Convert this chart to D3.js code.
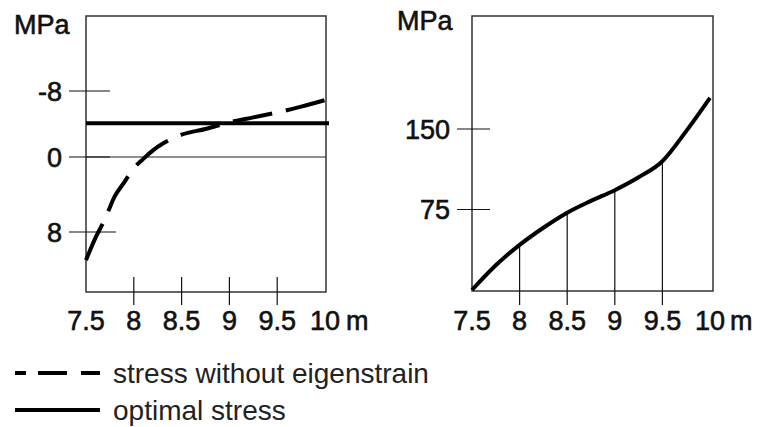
<!DOCTYPE html>
<html>
<head>
<meta charset="utf-8">
<script src="https://cdn.jsdelivr.net/npm/d3@7"></script>
<style>
  body { margin: 0; background: #fff; }
  svg { display: block; font-family: "Liberation Sans", Arial, sans-serif; }
  .lbl { fill: #111; stroke: #111; stroke-width: 0.6px; }
</style>
</head>
<body>
<svg id="chart" width="761" height="427"></svg>
<script>
// Positions along the beam (m)
const positions = [7.5, 8, 8.5, 9, 9.5, 10];
const innerTicks = [8, 8.5, 9, 9.5];

// Left panel: stress without eigenstrain (MPa, positive is downward)
const noEigenX = [7.5, 7.6, 7.7, 7.8, 7.9, 8.0, 8.1, 8.2, 8.3, 8.4, 8.5, 8.75, 9, 9.25, 9.5, 9.75, 10];
const noEigenY = [11.0, 8.6, 6.6, 4.2, 2.7, 1.2, 0.2, -0.8, -1.6, -2.2, -2.7, -3.4, -4.2, -4.8, -5.4, -6.1, -6.9];
const optimalStress = -4.1;
const leftTicks = [-8, 0, 8];

// Right panel: stress (MPa)
const rightX = [7.5, 7.75, 8, 8.25, 8.5, 8.75, 9, 9.25, 9.5, 9.75, 10];
const rightY = [0, 23, 42, 58, 72, 83, 93, 105, 120, 148, 179];
const rightTicks = [75, 150];

const svg = d3.select("#chart");
const font = 27;

// ---------- left panel ----------
const xL = d3.scaleLinear().domain([7.5, 10]).range([86, 325]);
const yL = d3.scaleLinear().domain([-8, 0, 8]).range([91, 157, 232]);
const left = svg.append("g");

left.append("rect")
  .attr("x", 86).attr("y", 16).attr("width", 240).attr("height", 276)
  .attr("fill", "none").attr("stroke", "#333").attr("stroke-width", 1.5);

// zero line
left.append("line")
  .attr("x1", xL(7.5)).attr("x2", 326)
  .attr("y1", yL(0)).attr("y2", yL(0))
  .attr("stroke", "#222").attr("stroke-width", 1.2);

// y ticks crossing the axis
leftTicks.forEach((t) => {
  const w = t > 0 ? 30 : 24;
  left.append("line")
    .attr("x1", 69).attr("x2", 86 + w)
    .attr("y1", yL(t)).attr("y2", yL(t))
    .attr("stroke", "#111").attr("stroke-width", 1.2);
  left.append("text").attr("class", "lbl")
    .attr("x", 62).attr("y", yL(t)).attr("dy", "0.36em")
    .attr("text-anchor", "end").attr("font-size", font)
    .text(t);
});

// x ticks
innerTicks.forEach((t) => {
  left.append("line")
    .attr("x1", xL(t)).attr("x2", xL(t))
    .attr("y1", 277).attr("y2", 305)
    .attr("stroke", "#111").attr("stroke-width", 1.2);
});
positions.forEach((t) => {
  left.append("text").attr("class", "lbl")
    .attr("x", xL(t)).attr("y", 330)
    .attr("text-anchor", "middle").attr("font-size", font)
    .text(t);
});
left.append("text").attr("class", "lbl").attr("x", xL(10) + 21).attr("y", 330)
  .attr("font-size", font).text("m");
left.append("text").attr("class", "lbl").attr("x", 14).attr("y", 34)
  .attr("font-size", font).text("MPa");

// optimal stress (solid)
left.append("line")
  .attr("x1", xL(7.5)).attr("x2", xL(10) + 4)
  .attr("y1", yL(optimalStress)).attr("y2", yL(optimalStress))
  .attr("stroke", "#000").attr("stroke-width", 4);

// stress without eigenstrain (dashed)
const lineL = d3.line()
  .x((d, i) => xL(noEigenX[i]))
  .y((d) => yL(d))
  .curve(d3.curveMonotoneX);
left.append("path")
  .attr("d", lineL(noEigenY))
  .attr("fill", "none").attr("stroke", "#000")
  .attr("stroke-width", 4).attr("stroke-dasharray", "40,14");

// ---------- right panel ----------
const xR = d3.scaleLinear().domain([7.5, 10]).range([472, 710]);
const yR = d3.scaleLinear().domain([0, 150]).range([290, 129]);
const right = svg.append("g");

right.append("rect")
  .attr("x", 472).attr("y", 16).attr("width", 241).attr("height", 275)
  .attr("fill", "none").attr("stroke", "#333").attr("stroke-width", 1.5);

rightTicks.forEach((t) => {
  right.append("line")
    .attr("x1", 457).attr("x2", 490)
    .attr("y1", yR(t)).attr("y2", yR(t))
    .attr("stroke", "#111").attr("stroke-width", 1.2);
  right.append("text").attr("class", "lbl")
    .attr("x", 450).attr("y", yR(t)).attr("dy", "0.36em")
    .attr("text-anchor", "end").attr("font-size", font)
    .text(t);
});

// drop lines from the curve through the axis
innerTicks.forEach((t) => {
  const v = rightY[rightX.indexOf(t)];
  right.append("line")
    .attr("x1", xR(t)).attr("x2", xR(t))
    .attr("y1", yR(v)).attr("y2", 305)
    .attr("stroke", "#111").attr("stroke-width", 1.2);
});
positions.forEach((t) => {
  right.append("text").attr("class", "lbl")
    .attr("x", xR(t)).attr("y", 330)
    .attr("text-anchor", "middle").attr("font-size", font)
    .text(t);
});
right.append("text").attr("class", "lbl").attr("x", xR(10) + 20).attr("y", 330)
  .attr("font-size", font).text("m");
right.append("text").attr("class", "lbl").attr("x", 397).attr("y", 30)
  .attr("font-size", font).text("MPa");

const lineR = d3.line()
  .x((d, i) => xR(rightX[i]))
  .y((d) => yR(d))
  .curve(d3.curveMonotoneX);
right.append("path")
  .attr("d", lineR(rightY))
  .attr("fill", "none").attr("stroke", "#000").attr("stroke-width", 4);

// ---------- legend ----------
const legend = svg.append("g");
legend.append("line")
  .attr("x1", 15).attr("x2", 100).attr("y1", 373).attr("y2", 373)
  .attr("stroke", "#000").attr("stroke-width", 4).attr("stroke-dasharray", "11,12,29,14,19");
legend.append("text").attr("x", 113).attr("y", 383)
  .attr("font-size", 28).attr("fill", "#222").text("stress without eigenstrain");
legend.append("line")
  .attr("x1", 15).attr("x2", 100).attr("y1", 410).attr("y2", 410)
  .attr("stroke", "#000").attr("stroke-width", 4);
legend.append("text").attr("x", 113).attr("y", 420)
  .attr("font-size", 28).attr("fill", "#222").text("optimal stress");
</script>
</body>
</html>
